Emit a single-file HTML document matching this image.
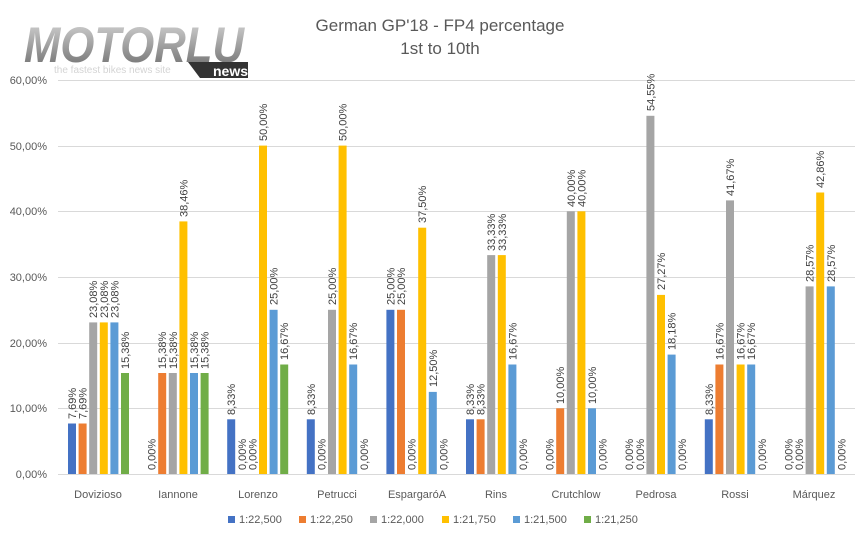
<!DOCTYPE html>
<html><head><meta charset="utf-8"><style>
body{margin:0;background:#fff}
svg text{font-family:"Liberation Sans",sans-serif}
</style></head><body>
<svg width="858" height="547" xmlns="http://www.w3.org/2000/svg">
<defs><linearGradient id="lg" x1="0" y1="0" x2="0" y2="1"><stop offset="0" stop-color="#d8d8d8"/><stop offset="1" stop-color="#6a6a6a"/></linearGradient></defs>
<rect width="858" height="547" fill="#fff"/>
<text x="24" y="62" font-size="50" font-weight="bold" font-style="italic" fill="url(#lg)" textLength="220" lengthAdjust="spacingAndGlyphs">MOTORLU</text>
<text x="54" y="73" font-size="10" fill="#d4d4d4">the fastest bikes news site</text>
<polygon points="188,62 248,62 248,78 200,78" fill="#333"/>
<text x="213" y="76" font-size="14" font-weight="bold" fill="#fff">news</text>
<text x="440" y="31" font-size="17" fill="#595959" text-anchor="middle">German GP'18 - FP4 percentage</text>
<text x="440" y="54" font-size="17" fill="#595959" text-anchor="middle">1st to 10th</text>
<g stroke="#d9d9d9" stroke-width="1">
<line x1="58" x2="855" y1="80.5" y2="80.5"/><line x1="58" x2="855" y1="146.5" y2="146.5"/><line x1="58" x2="855" y1="211.5" y2="211.5"/><line x1="58" x2="855" y1="277.5" y2="277.5"/><line x1="58" x2="855" y1="343.5" y2="343.5"/><line x1="58" x2="855" y1="408.5" y2="408.5"/><line x1="58" x2="855" y1="474.5" y2="474.5"/>
</g>
<g font-size="11" fill="#595959" text-anchor="end">
<text x="47" y="84">60,00%</text><text x="47" y="150">50,00%</text><text x="47" y="215">40,00%</text><text x="47" y="281">30,00%</text><text x="47" y="347">20,00%</text><text x="47" y="412">10,00%</text><text x="47" y="478">0,00%</text>
</g>
<g font-size="11" fill="#595959" text-anchor="middle">
<text x="98" y="498">Dovizioso</text><text x="178" y="498">Iannone</text><text x="258" y="498">Lorenzo</text><text x="337" y="498">Petrucci</text><text x="417" y="498">EspargaróA</text><text x="496" y="498">Rins</text><text x="576" y="498">Crutchlow</text><text x="656" y="498">Pedrosa</text><text x="735" y="498">Rossi</text><text x="814" y="498">Márquez</text>
</g>
<g font-size="11" fill="#404040">
<!-- Dovizioso -->
<g transform="translate(68,0)">
<rect x="0" y="423.5" width="8" height="50.5" fill="#4472C4"/><rect x="10.6" y="423.5" width="8" height="50.5" fill="#ED7D31"/><rect x="21.2" y="322.4" width="8" height="151.6" fill="#A5A5A5"/><rect x="31.8" y="322.4" width="8" height="151.6" fill="#FFC000"/><rect x="42.4" y="322.4" width="8" height="151.6" fill="#5B9BD5"/><rect x="53" y="373" width="8" height="101" fill="#70AD47"/>
<text transform="translate(8,419) rotate(-90)">7,69%</text><text transform="translate(18.6,419) rotate(-90)">7,69%</text><text transform="translate(29.2,318) rotate(-90)">23,08%</text><text transform="translate(39.8,318) rotate(-90)">23,08%</text><text transform="translate(50.4,318) rotate(-90)">23,08%</text><text transform="translate(61,369) rotate(-90)">15,38%</text>
</g>
<!-- Iannone -->
<g transform="translate(147.6,0)">
<rect x="10.6" y="373" width="8" height="101" fill="#ED7D31"/><rect x="21.2" y="373" width="8" height="101" fill="#A5A5A5"/><rect x="31.8" y="221.4" width="8" height="252.6" fill="#FFC000"/><rect x="42.4" y="373" width="8" height="101" fill="#5B9BD5"/><rect x="53" y="373" width="8" height="101" fill="#70AD47"/>
<text transform="translate(8,470) rotate(-90)">0,00%</text><text transform="translate(18.6,369) rotate(-90)">15,38%</text><text transform="translate(29.2,369) rotate(-90)">15,38%</text><text transform="translate(39.8,217) rotate(-90)">38,46%</text><text transform="translate(50.4,369) rotate(-90)">15,38%</text><text transform="translate(61,369) rotate(-90)">15,38%</text>
</g>
<!-- Lorenzo -->
<g transform="translate(227.2,0)">
<rect x="0" y="419.3" width="8" height="54.7" fill="#4472C4"/><rect x="31.8" y="145.6" width="8" height="328.4" fill="#FFC000"/><rect x="42.4" y="309.8" width="8" height="164.2" fill="#5B9BD5"/><rect x="53" y="364.5" width="8" height="109.5" fill="#70AD47"/>
<text transform="translate(8,415) rotate(-90)">8,33%</text><text transform="translate(18.6,470) rotate(-90)">0,00%</text><text transform="translate(29.2,470) rotate(-90)">0,00%</text><text transform="translate(39.8,141) rotate(-90)">50,00%</text><text transform="translate(50.4,305) rotate(-90)">25,00%</text><text transform="translate(61,360) rotate(-90)">16,67%</text>
</g>
<!-- Petrucci -->
<g transform="translate(306.8,0)">
<rect x="0" y="419.3" width="8" height="54.7" fill="#4472C4"/><rect x="21.2" y="309.8" width="8" height="164.2" fill="#A5A5A5"/><rect x="31.8" y="145.6" width="8" height="328.4" fill="#FFC000"/><rect x="42.4" y="364.5" width="8" height="109.5" fill="#5B9BD5"/>
<text transform="translate(8,415) rotate(-90)">8,33%</text><text transform="translate(18.6,470) rotate(-90)">0,00%</text><text transform="translate(29.2,305) rotate(-90)">25,00%</text><text transform="translate(39.8,141) rotate(-90)">50,00%</text><text transform="translate(50.4,360) rotate(-90)">16,67%</text><text transform="translate(61,470) rotate(-90)">0,00%</text>
</g>
<!-- Espargaro -->
<g transform="translate(386.4,0)">
<rect x="0" y="309.8" width="8" height="164.2" fill="#4472C4"/><rect x="10.6" y="309.8" width="8" height="164.2" fill="#ED7D31"/><rect x="31.8" y="227.7" width="8" height="246.3" fill="#FFC000"/><rect x="42.4" y="391.9" width="8" height="82.1" fill="#5B9BD5"/>
<text transform="translate(8,305) rotate(-90)">25,00%</text><text transform="translate(18.6,305) rotate(-90)">25,00%</text><text transform="translate(29.2,470) rotate(-90)">0,00%</text><text transform="translate(39.8,223) rotate(-90)">37,50%</text><text transform="translate(50.4,387) rotate(-90)">12,50%</text><text transform="translate(61,470) rotate(-90)">0,00%</text>
</g>
<!-- Rins -->
<g transform="translate(466,0)">
<rect x="0" y="419.3" width="8" height="54.7" fill="#4472C4"/><rect x="10.6" y="419.3" width="8" height="54.7" fill="#ED7D31"/><rect x="21.2" y="255.1" width="8" height="218.9" fill="#A5A5A5"/><rect x="31.8" y="255.1" width="8" height="218.9" fill="#FFC000"/><rect x="42.4" y="364.5" width="8" height="109.5" fill="#5B9BD5"/>
<text transform="translate(8,415) rotate(-90)">8,33%</text><text transform="translate(18.6,415) rotate(-90)">8,33%</text><text transform="translate(29.2,251) rotate(-90)">33,33%</text><text transform="translate(39.8,251) rotate(-90)">33,33%</text><text transform="translate(50.4,360) rotate(-90)">16,67%</text><text transform="translate(61,470) rotate(-90)">0,00%</text>
</g>
<!-- Crutchlow -->
<g transform="translate(545.6,0)">
<rect x="10.6" y="408.3" width="8" height="65.7" fill="#ED7D31"/><rect x="21.2" y="211.3" width="8" height="262.7" fill="#A5A5A5"/><rect x="31.8" y="211.3" width="8" height="262.7" fill="#FFC000"/><rect x="42.4" y="408.3" width="8" height="65.7" fill="#5B9BD5"/>
<text transform="translate(8,470) rotate(-90)">0,00%</text><text transform="translate(18.6,404) rotate(-90)">10,00%</text><text transform="translate(29.2,207) rotate(-90)">40,00%</text><text transform="translate(39.8,207) rotate(-90)">40,00%</text><text transform="translate(50.4,404) rotate(-90)">10,00%</text><text transform="translate(61,470) rotate(-90)">0,00%</text>
</g>
<!-- Pedrosa -->
<g transform="translate(625.2,0)">
<rect x="21.2" y="115.8" width="8" height="358.2" fill="#A5A5A5"/><rect x="31.8" y="294.9" width="8" height="179.1" fill="#FFC000"/><rect x="42.4" y="354.6" width="8" height="119.4" fill="#5B9BD5"/>
<text transform="translate(8,470) rotate(-90)">0,00%</text><text transform="translate(18.6,470) rotate(-90)">0,00%</text><text transform="translate(29.2,111) rotate(-90)">54,55%</text><text transform="translate(39.8,290) rotate(-90)">27,27%</text><text transform="translate(50.4,350) rotate(-90)">18,18%</text><text transform="translate(61,470) rotate(-90)">0,00%</text>
</g>
<!-- Rossi -->
<g transform="translate(704.8,0)">
<rect x="0" y="419.3" width="8" height="54.7" fill="#4472C4"/><rect x="10.6" y="364.5" width="8" height="109.5" fill="#ED7D31"/><rect x="21.2" y="200.4" width="8" height="273.6" fill="#A5A5A5"/><rect x="31.8" y="364.5" width="8" height="109.5" fill="#FFC000"/><rect x="42.4" y="364.5" width="8" height="109.5" fill="#5B9BD5"/>
<text transform="translate(8,415) rotate(-90)">8,33%</text><text transform="translate(18.6,360) rotate(-90)">16,67%</text><text transform="translate(29.2,196) rotate(-90)">41,67%</text><text transform="translate(39.8,360) rotate(-90)">16,67%</text><text transform="translate(50.4,360) rotate(-90)">16,67%</text><text transform="translate(61,470) rotate(-90)">0,00%</text>
</g>
<!-- Marquez -->
<g transform="translate(784.4,0)">
<rect x="21.2" y="286.4" width="8" height="187.6" fill="#A5A5A5"/><rect x="31.8" y="192.5" width="8" height="281.5" fill="#FFC000"/><rect x="42.4" y="286.4" width="8" height="187.6" fill="#5B9BD5"/>
<text transform="translate(8,470) rotate(-90)">0,00%</text><text transform="translate(18.6,470) rotate(-90)">0,00%</text><text transform="translate(29.2,282) rotate(-90)">28,57%</text><text transform="translate(39.8,188) rotate(-90)">42,86%</text><text transform="translate(50.4,282) rotate(-90)">28,57%</text><text transform="translate(61,470) rotate(-90)">0,00%</text>
</g>
</g>
<g font-size="11" fill="#595959">
<rect x="228" y="516" width="7" height="7" fill="#4472C4"/><text x="239" y="523">1:22,500</text>
<rect x="299" y="516" width="7" height="7" fill="#ED7D31"/><text x="310" y="523">1:22,250</text>
<rect x="370" y="516" width="7" height="7" fill="#A5A5A5"/><text x="381" y="523">1:22,000</text>
<rect x="442" y="516" width="7" height="7" fill="#FFC000"/><text x="453" y="523">1:21,750</text>
<rect x="513" y="516" width="7" height="7" fill="#5B9BD5"/><text x="524" y="523">1:21,500</text>
<rect x="584" y="516" width="7" height="7" fill="#70AD47"/><text x="595" y="523">1:21,250</text>
</g>
</svg>
</body></html>
